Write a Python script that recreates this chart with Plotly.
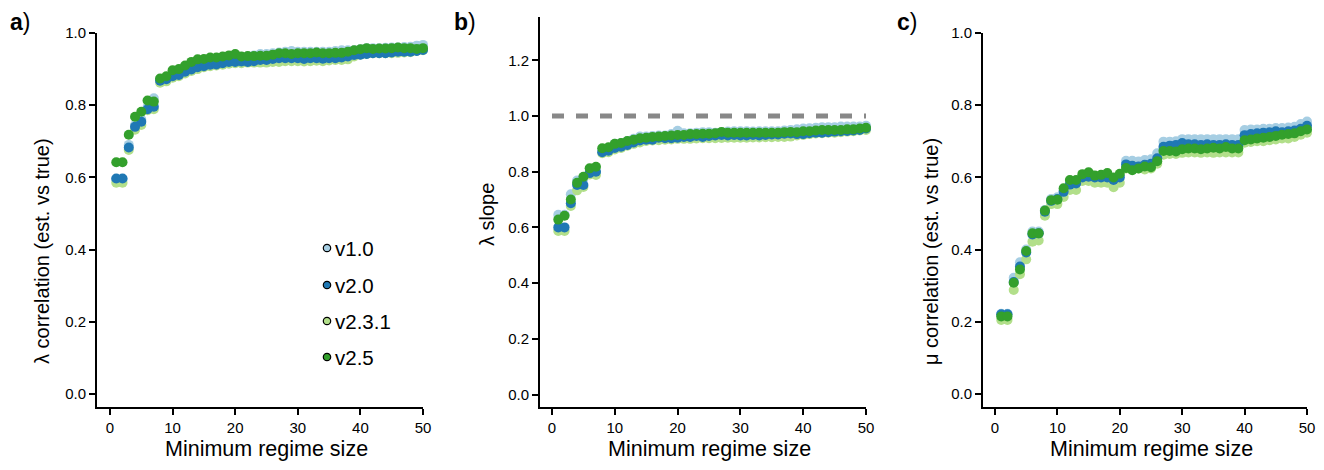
import plotly.graph_objects as go

# ---------------- data ----------------
regime_size = list(range(1, 51))
versions = ["v1.0", "v2.0", "v2.3.1", "v2.5"]
colors = {"v1.0": "#a6cee3", "v2.0": "#1f78b4", "v2.3.1": "#b2df8a", "v2.5": "#33a02c"}

lambda_cor_v10 = [.595, .595, .690, .745, .760, .795, .819, .872, .876, .884, .890, .900, .905, .912, .918, .922, .925, .928, .930, .932,
                  .932, .935, .938, .942, .942, .944, .946, .948, .950, .948, .948, .948, .948, .948, .948, .950, .952, .952, .952, .955,
                  .958, .958, .958, .959, .960, .960, .961, .962, .965, .967]
lambda_cor_v20 = [.597, .597, .683, .740, .754, .789, .796, .868, .872, .880, .884, .893, .899, .905, .908, .912, .913, .916, .920, .920,
                  .921, .920, .922, .925, .925, .928, .930, .930, .930, .930, .928, .930, .930, .929, .930, .930, .932, .935, .939, .940,
                  .942, .944, .944, .944, .946, .948, .948, .948, .950, .953]
lambda_cor_v231 = [.585, .585, .676, .732, .745, .786, .789, .862, .866, .876, .880, .888, .895, .900, .905, .908, .910, .912, .915, .916,
                   .916, .918, .918, .918, .918, .920, .920, .922, .922, .922, .921, .922, .923, .922, .924, .925, .925, .927, .935, .940,
                   .942, .944, .944, .944, .944, .945, .946, .947, .950, .952]
lambda_cor_v25 = [.642, .642, .718, .768, .782, .813, .810, .874, .880, .897, .900, .910, .920, .927, .928, .932, .932, .935, .938, .942,
                  .935, .936, .936, .937, .937, .940, .944, .944, .942, .944, .944, .944, .946, .944, .944, .945, .945, .948, .952, .955,
                  .958, .956, .957, .957, .958, .960, .958, .958, .956, .958]

lambda_slope_v10 = [.645, .645, .719, .768, .775, .800, .800, .875, .885, .900, .903, .910, .918, .926, .926, .928, .930, .930, .935, .947,
                    .938, .938, .940, .942, .942, .940, .942, .944, .945, .945, .945, .944, .945, .945, .945, .945, .948, .950, .952, .955,
                    .956, .958, .960, .960, .960, .962, .962, .962, .962, .965]
lambda_slope_v20 = [.600, .600, .687, .752, .752, .795, .800, .870, .875, .885, .890, .896, .905, .912, .915, .915, .922, .920, .920, .922,
                    .925, .925, .928, .925, .928, .930, .932, .930, .932, .930, .930, .932, .930, .932, .934, .934, .936, .937, .935, .935,
                    .938, .940, .940, .942, .944, .945, .946, .948, .950, .955]
lambda_slope_v231 = [.587, .587, .677, .733, .745, .790, .788, .866, .870, .880, .885, .893, .900, .905, .910, .912, .913, .915, .916, .918,
                     .918, .918, .919, .920, .920, .920, .921, .922, .922, .922, .922, .923, .923, .924, .924, .925, .925, .926, .930, .932,
                     .935, .937, .938, .940, .940, .942, .944, .945, .948, .950]
lambda_slope_v25 = [.628, .642, .700, .760, .782, .812, .818, .884, .888, .900, .903, .910, .915, .920, .922, .925, .926, .928, .930, .932,
                    .932, .935, .935, .936, .936, .938, .943, .940, .940, .940, .940, .940, .940, .940, .940, .940, .942, .943, .942, .945,
                    .945, .948, .950, .950, .950, .950, .952, .952, .955, .958]

mu_cor_v10 = [.222, .222, .322, .365, .400, .450, .450, .510, .540, .545, .563, .585, .585, .598, .600, .600, .600, .603, .598, .604,
              .646, .646, .644, .648, .650, .667, .699, .699, .700, .706, .706, .706, .706, .706, .706, .706, .706, .706, .706, .731,
              .733, .733, .735, .735, .737, .737, .738, .740, .748, .755]
mu_cor_v20 = [.221, .221, .310, .353, .392, .442, .445, .505, .535, .540, .560, .580, .583, .600, .602, .600, .600, .600, .593, .600,
              .636, .632, .630, .635, .638, .653, .685, .688, .690, .695, .692, .692, .690, .692, .690, .690, .692, .690, .690, .717,
              .720, .722, .724, .725, .728, .725, .728, .730, .735, .743]
mu_cor_v231 = [.205, .205, .288, .332, .373, .422, .425, .494, .526, .526, .546, .565, .565, .590, .590, .585, .585, .585, .573, .585,
               .625, .632, .625, .622, .625, .638, .663, .665, .665, .668, .669, .669, .668, .669, .668, .669, .669, .669, .669, .696,
               .698, .700, .700, .703, .705, .708, .708, .712, .718, .724]
mu_cor_v25 = [.215, .215, .308, .345, .396, .445, .445, .508, .537, .538, .570, .593, .593, .609, .614, .605, .607, .612, .600, .610,
              .626, .620, .625, .630, .628, .645, .673, .673, .672, .678, .680, .680, .678, .680, .682, .680, .684, .680, .680, .703,
              .705, .708, .710, .712, .715, .718, .720, .722, .728, .733]

panel_data = [
    {"v1.0": lambda_cor_v10, "v2.0": lambda_cor_v20, "v2.3.1": lambda_cor_v231, "v2.5": lambda_cor_v25},
    {"v1.0": lambda_slope_v10, "v2.0": lambda_slope_v20, "v2.3.1": lambda_slope_v231, "v2.5": lambda_slope_v25},
    {"v1.0": mu_cor_v10, "v2.0": mu_cor_v20, "v2.3.1": mu_cor_v231, "v2.5": mu_cor_v25},
]
ref_line_x = [0, 50]
ref_line_y = [1.0, 1.0]

panel_letters = ["a", "b", "c"]
y_titles = ["λ correlation (est. vs true)", "λ slope", "μ correlation (est. vs true)"]
x_title = "Minimum regime size"
x_ticks = [0, 10, 20, 30, 40, 50]
y_ticks = [[0.0, 0.2, 0.4, 0.6, 0.8, 1.0], [0.0, 0.2, 0.4, 0.6, 0.8, 1.0, 1.2], [0.0, 0.2, 0.4, 0.6, 0.8, 1.0]]

# ---------------- layout helpers ----------------
# the page body adds an 8px margin around the figure; work in page pixels and shift
BODY = 8
PAGE_W, PAGE_H = 1324, 470
W, H = PAGE_W - 2 * BODY, PAGE_H - 2 * BODY
PLOT_L, PLOT_R, PLOT_T, PLOT_B = 97, 1307, 17, 407  # page pixels
ML, MT = PLOT_L - BODY, PLOT_T - BODY
MR = W - (PLOT_R - BODY)
MB = H - (PLOT_B - BODY)
PW, PH = PLOT_R - PLOT_L, PLOT_B - PLOT_T
FONT = "Liberation Sans, Arial, Helvetica, sans-serif"


def px_x(p):
    return (p - PLOT_L) / PW


def px_y(p):
    return (PLOT_B - p) / PH


panel_px = [(97, 423), (540, 866), (983, 1307)]
zero_px = [110, 552, 995]
x_domains = [[px_x(a), px_x(b)] for a, b in panel_px]
x_ranges = []
for (a, b), z in zip(panel_px, zero_px):
    per = (b - z) / 50.0
    x_ranges.append([-(z - a) / per, 50.0])
y_domains = [[0.0, 374 / PH], [0.0, 1.0], [0.0, 374 / PH]]
y_ranges = [[-0.036, 1.0], [-0.0449, 1.3555], [-0.036, 1.0]]

fig = go.Figure()
draw_order = ["v1.0", "v2.3.1", "v2.0", "v2.5"]

for i, data in enumerate(panel_data):
    xa = "x" if i == 0 else f"x{i+1}"
    ya = "y" if i == 0 else f"y{i+1}"
    if i == 1:
        fig.add_trace(go.Scatter(x=ref_line_x, y=ref_line_y, mode="lines", xaxis=xa, yaxis=ya,
                                 line=dict(color="#888888", width=5, dash="12px,12px"),
                                 showlegend=False, hoverinfo="skip"))
    for v in draw_order:
        fig.add_trace(go.Scatter(x=regime_size, y=data[v], mode="markers", xaxis=xa, yaxis=ya,
                                 marker=dict(color=colors[v], size=10, line=dict(width=0)),
                                 cliponaxis=False, showlegend=False, name=v))

axis_common = dict(showgrid=False, zeroline=False, showline=True, linecolor="black", linewidth=1.8,
                   ticks="outside", ticklen=6, tickwidth=1.8, tickcolor="black",
                   ticklabeloverflow="allow",
                   tickfont=dict(family=FONT, size=15, color="black"), mirror=False)

layout = dict(width=W, height=H, margin=dict(l=ML, r=MR, t=MT, b=MB, autoexpand=False),
              plot_bgcolor="white", paper_bgcolor="white", showlegend=False,
              font=dict(family=FONT, color="black"))
for i in range(3):
    xk = "xaxis" if i == 0 else f"xaxis{i+1}"
    yk = "yaxis" if i == 0 else f"yaxis{i+1}"
    ya = "y" if i == 0 else f"y{i+1}"
    xa = "x" if i == 0 else f"x{i+1}"
    layout[xk] = dict(axis_common, domain=x_domains[i], range=x_ranges[i], tickvals=x_ticks, anchor=ya)
    layout[yk] = dict(axis_common, domain=y_domains[i], range=y_ranges[i], tickvals=y_ticks[i],
                      tickformat=".1f", anchor=xa)
fig.update_layout(**layout)

annotations = []
letter_px = [8, 452, 895]
ytitle_px = [42, 487, 931]
ytitle_py = [251, 215, 251]
xcenter_px = [266.5, 709, 1151]
for i in range(3):
    annotations.append(dict(text=f"<b>{panel_letters[i]}</b>)", xref="paper", yref="paper",
                            x=px_x(letter_px[i]), y=px_y(22), xanchor="left", yanchor="middle",
                            showarrow=False, font=dict(family=FONT, size=23, color="black")))
    annotations.append(dict(text=y_titles[i], xref="paper", yref="paper", textangle=-90,
                            x=px_x(ytitle_px[i]), y=px_y(ytitle_py[i]), xanchor="center", yanchor="middle",
                            showarrow=False, font=dict(family=FONT, size=20, color="black")))
    annotations.append(dict(text=x_title, xref="paper", yref="paper",
                            x=px_x(xcenter_px[i]), y=px_y(449), xanchor="center", yanchor="middle",
                            showarrow=False, font=dict(family=FONT, size=21.5, color="black")))

# legend (panel a)
legend_rows_py = [248, 285, 321, 357]
shapes = []
for v, py in zip(versions, legend_rows_py):
    shapes.append(dict(type="circle", xref="paper", yref="paper", xsizemode="pixel", ysizemode="pixel",
                       xanchor=px_x(327), yanchor=px_y(py), x0=-3.7, x1=3.7, y0=-3.7, y1=3.7,
                       fillcolor=colors[v], line=dict(color="black", width=1.2)))
    annotations.append(dict(text=v, xref="paper", yref="paper", x=px_x(333), y=px_y(py),
                            xanchor="left", yanchor="middle", showarrow=False,
                            font=dict(family=FONT, size=20.5, color="black")))

fig.update_layout(annotations=annotations, shapes=shapes)
fig.write_html("out.html")
